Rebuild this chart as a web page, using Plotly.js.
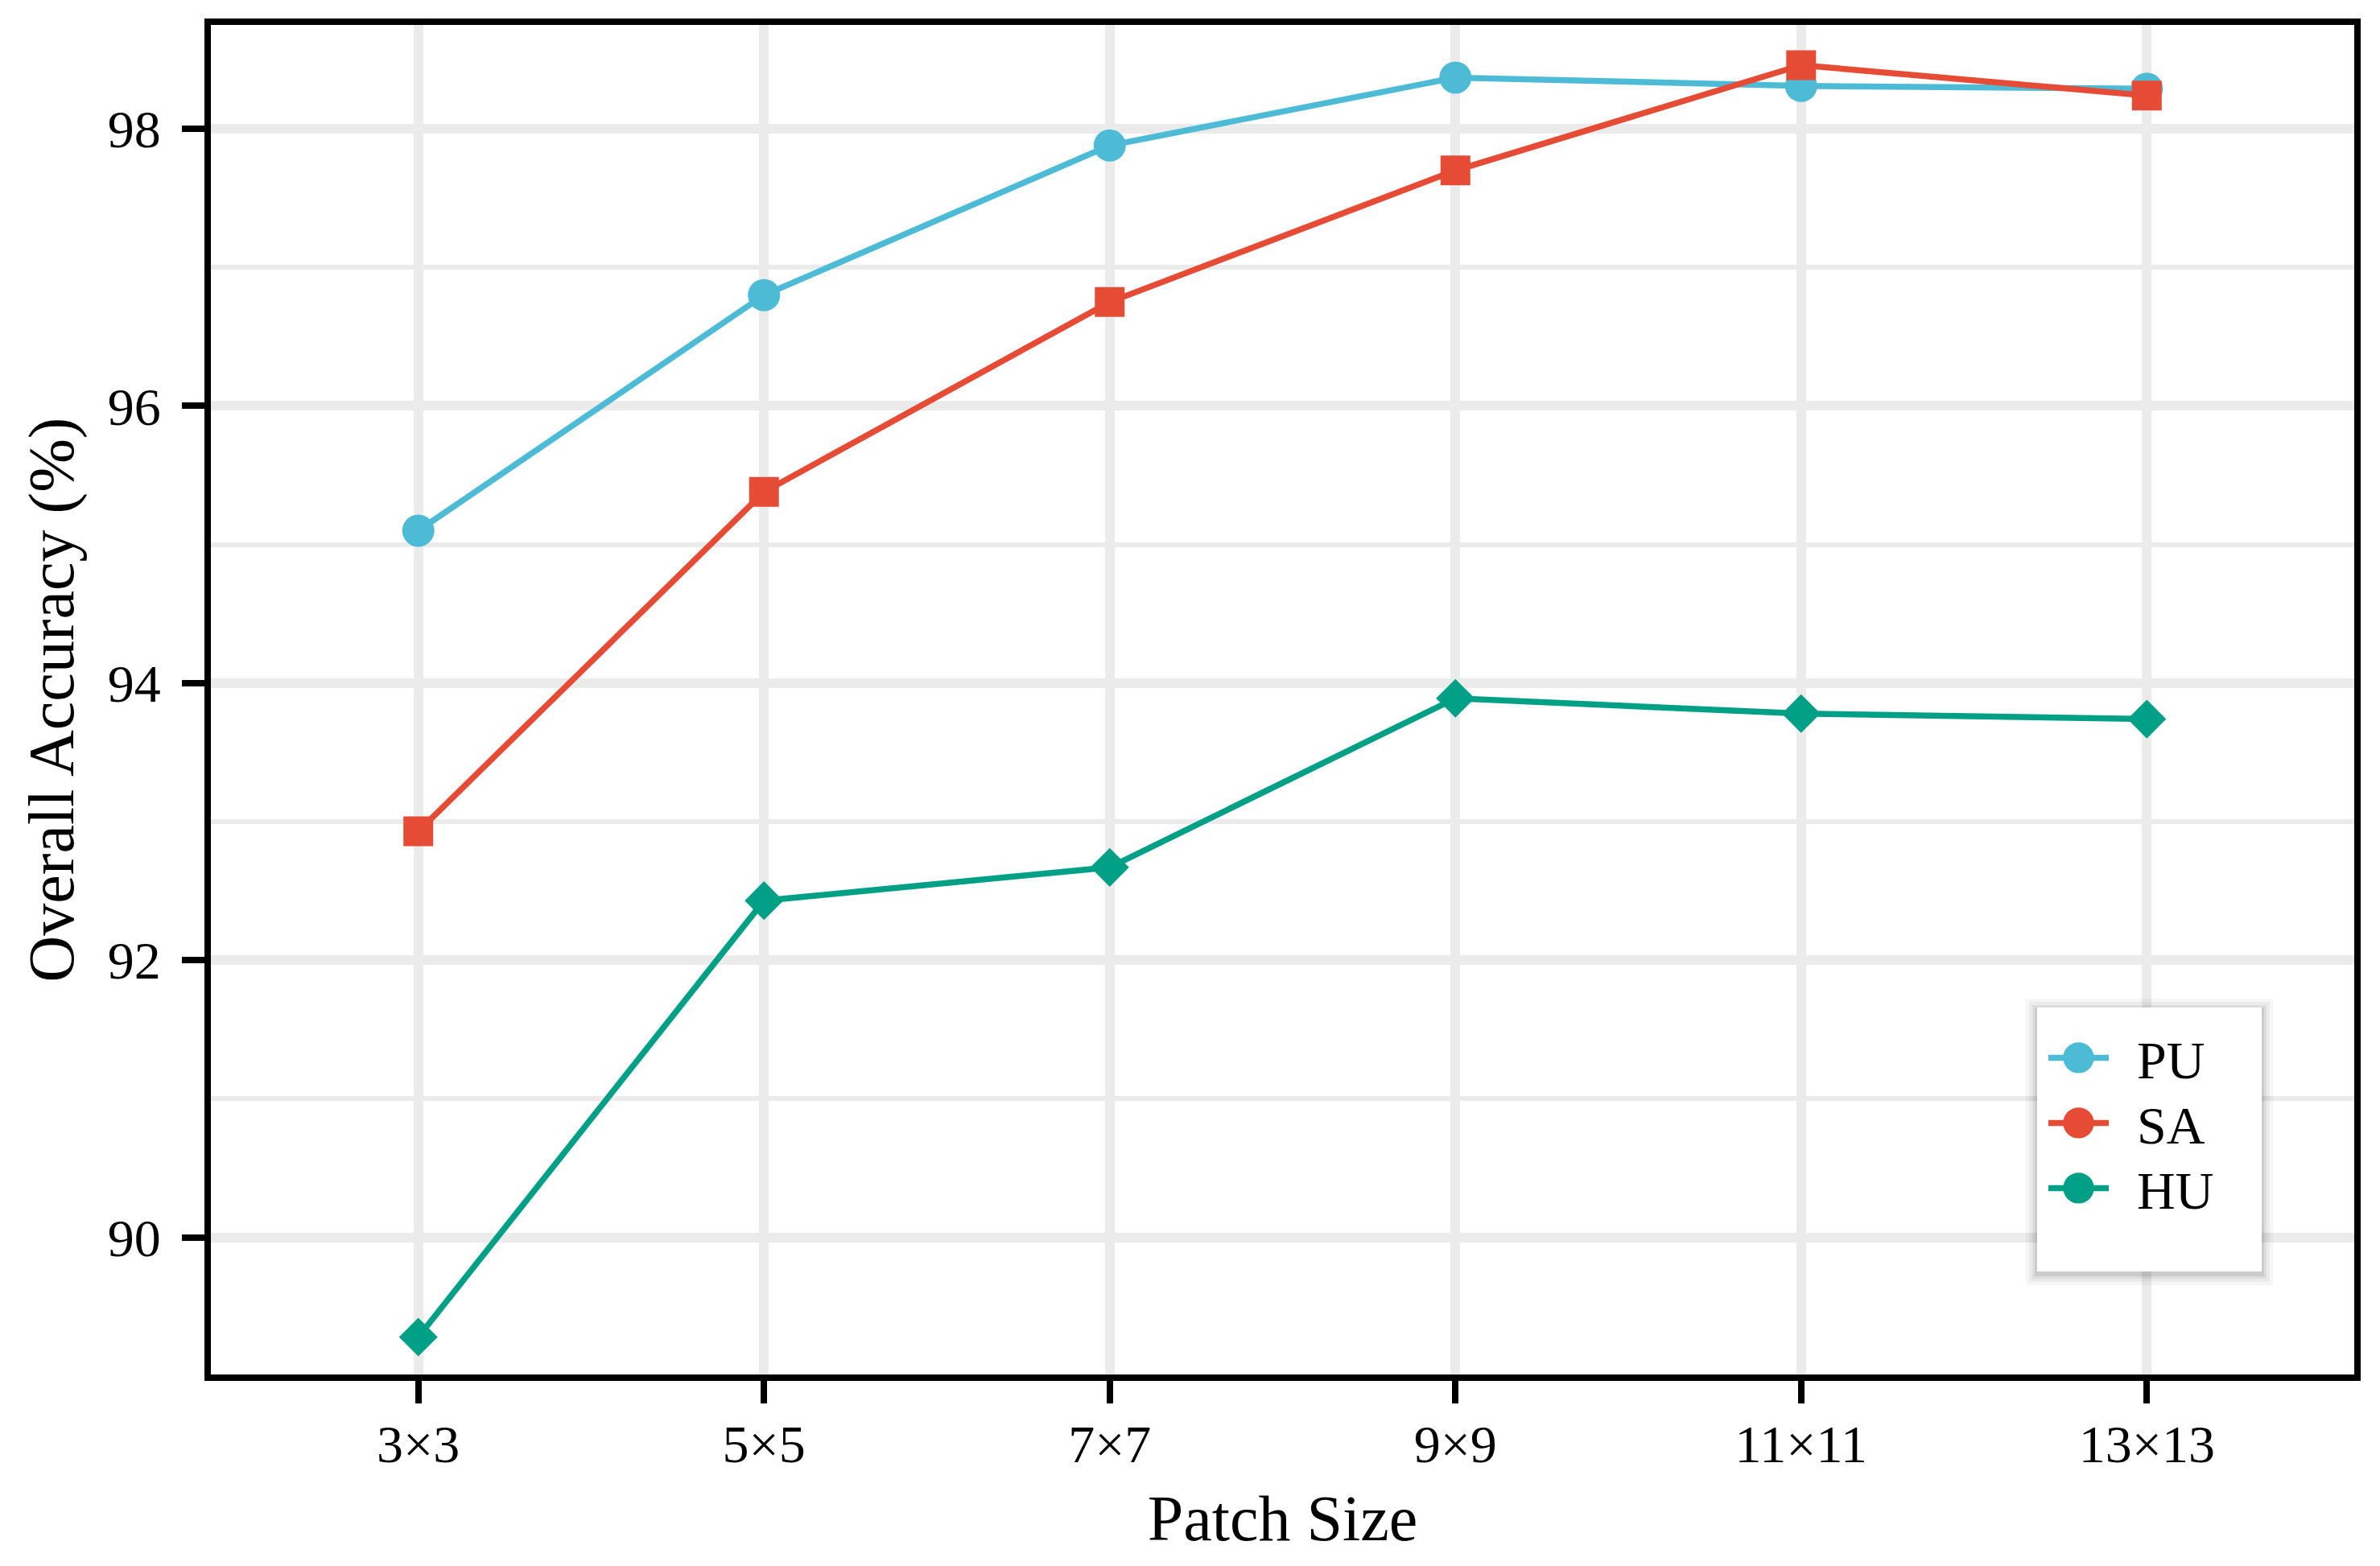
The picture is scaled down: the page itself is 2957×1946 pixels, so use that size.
<!DOCTYPE html>
<html>
<head>
<meta charset="utf-8">
<script src="https://cdn.plot.ly/plotly-3.0.1.min.js"></script>
<style>
  html, body { margin: 0; padding: 0; background: #ffffff; }
  #chart { width: 2957px; height: 1946px; }
</style>
</head>
<body>
<div id="chart"></div>
<script>
// Categories (x axis tick labels)
const patchSizes = ["3×3", "5×5", "7×7", "9×9", "11×11", "13×13"];

// Series values: Overall Accuracy (%)
const seriesNames = ["PU", "SA", "HU"];
const puValues = [95.10, 96.80, 97.88, 98.37, 98.31, 98.29];
const saValues = [92.93, 95.38, 96.75, 97.70, 98.46, 98.24];
const huValues = [89.28, 92.43, 92.67, 93.89, 93.78, 93.74];

// Y tick values
const yTicks = [90, 92, 94, 96, 98];

const colors = { PU: "#4DBBD5", SA: "#E64B35", HU: "#00A087" };
const symbols = { PU: "circle", SA: "square", HU: "diamond" };
const sizes = { PU: 40, SA: 37, HU: 37 };
const valuesByName = { PU: puValues, SA: saValues, HU: huValues };

const FONT = "'Liberation Serif', 'Times New Roman', Times, serif";

// plot area geometry (px)
const W = 2957, H = 1946;
const M = { l: 262, r: 32, t: 31, b: 238 };
const PW = W - M.l - M.r, PH = H - M.t - M.b;
const px2x = px => (px - M.l) / PW;
const px2y = py => 1 - (py - M.t) / PH;

const traces = [];
seriesNames.forEach(name => {
  traces.push({
    type: "scatter",
    mode: "lines+markers",
    name: name,
    x: patchSizes,
    y: valuesByName[name],
    line: { color: colors[name], width: 7.5 },
    marker: { color: colors[name], symbol: symbols[name], size: sizes[name] },
    showlegend: false,
    hoverinfo: "x+y+name"
  });
});
// legend entries (ggplot-style: circle keys for all series)
seriesNames.forEach(name => {
  traces.push({
    type: "scatter",
    mode: "lines+markers",
    name: name,
    x: [null],
    y: [null],
    line: { color: colors[name], width: 7.5 },
    marker: { color: colors[name], symbol: "circle", size: 40 },
    showlegend: true
  });
});

// legend box (with soft shadow) drawn as shapes
const box = { x0: 2531, x1: 2810, y0: 1252, y1: 1580 };
const shapes = [];
[[14, 0.035], [10, 0.045], [6, 0.06], [3, 0.08]].forEach(([g, a]) => {
  shapes.push({
    type: "rect", xref: "paper", yref: "paper", layer: "above",
    x0: px2x(box.x0 - g), x1: px2x(box.x1 + g),
    y0: px2y(box.y1 + g + 3), y1: px2y(box.y0 - g + 3),
    fillcolor: "rgba(0,0,0," + a + ")", line: { width: 0 }
  });
});
shapes.push({
  type: "rect", xref: "paper", yref: "paper", layer: "above",
  x0: px2x(box.x0), x1: px2x(box.x1), y0: px2y(box.y1), y1: px2y(box.y0),
  fillcolor: "#ffffff", line: { width: 0 }
});

const layout = {
  width: W,
  height: H,
  paper_bgcolor: "#ffffff",
  plot_bgcolor: "#ffffff",
  margin: { l: M.l, r: M.r, t: M.t, b: M.b, autoexpand: false },
  font: { family: FONT, color: "#000000", size: 66 },
  showlegend: true,
  shapes: shapes,
  legend: {
    x: px2x(2540), y: px2y(1262), xanchor: "left", yanchor: "top",
    bgcolor: "rgba(0,0,0,0)",
    borderwidth: 0,
    font: { family: FONT, size: 66, color: "#000000" },
    itemwidth: 75,
    itemsizing: "trace",
    traceorder: "normal"
  },
  xaxis: {
    type: "category",
    categoryorder: "array",
    categoryarray: patchSizes,
    range: [-0.6, 5.6],
    autorange: false,
    showgrid: true,
    gridcolor: "#EBEBEB",
    gridwidth: 12,
    zeroline: false,
    showline: true,
    linecolor: "#000000",
    linewidth: 8,
    mirror: true,
    ticks: "outside",
    ticklen: 28,
    tickwidth: 8,
    tickcolor: "#000000",
    tickfont: { family: FONT, size: 66, color: "#000000" },
    ticklabelstandoff: -6,
    automargin: false,
    title: { text: "Patch Size", font: { family: FONT, size: 80, color: "#000000" }, standoff: 31 }
  },
  yaxis: {
    range: [89.01, 98.75],
    autorange: false,
    tickvals: yTicks,
    ticktext: yTicks.map(String),
    showgrid: true,
    gridcolor: "#EBEBEB",
    gridwidth: 12,
    minor: { dtick: 1, tick0: 0, showgrid: true, gridcolor: "#EBEBEB", gridwidth: 6, ticks: "" },
    zeroline: false,
    showline: true,
    linecolor: "#000000",
    linewidth: 8,
    mirror: true,
    ticks: "outside",
    ticklen: 28,
    tickwidth: 8,
    tickcolor: "#000000",
    tickfont: { family: FONT, size: 66, color: "#000000" },
    ticklabelstandoff: 13,
    automargin: false,
    title: { text: "Overall Accuracy (%)", font: { family: FONT, size: 80, color: "#000000" }, standoff: 19 }
  }
};

Plotly.newPlot("chart", traces, layout, { staticPlot: true, displayModeBar: false }).then(() => {
  const root = document.getElementById("chart");
  // let legend content extend past Plotly's computed legend clip box
  root.querySelectorAll(".legend [clip-path]").forEach(el => el.removeAttribute("clip-path"));
  // enlarge legend key points (Plotly caps legend marker size at 16px)
  root.querySelectorAll(".legend .legendpoints path.scatterpts").forEach(p => {
    const t = p.getAttribute("transform") || "";
    p.setAttribute("transform", t + " scale(2.4)");
  });
  // move legend text a little further from the keys
  root.querySelectorAll(".legend text.legendtext").forEach(t => {
    t.setAttribute("x", (parseFloat(t.getAttribute("x")) || 0) + 30);
  });
  // tighten vertical spacing of legend entries
  const items = Array.from(root.querySelectorAll(".legend g.traces"));
  if (items.length) {
    const parseY = el => {
      const m = /translate\(\s*([-\d.eE]+)[ ,]+([-\d.eE]+)\s*\)/.exec(el.getAttribute("transform") || "");
      return m ? [parseFloat(m[1]), parseFloat(m[2])] : [0, 0];
    };
    const [x0, y0] = parseY(items[0]);
    items.forEach((el, i) => {
      const [xi] = parseY(el);
      el.setAttribute("transform", "translate(" + xi + "," + (y0 + 3 + i * 81) + ")");
    });
  }
});
</script>
</body>
</html>
